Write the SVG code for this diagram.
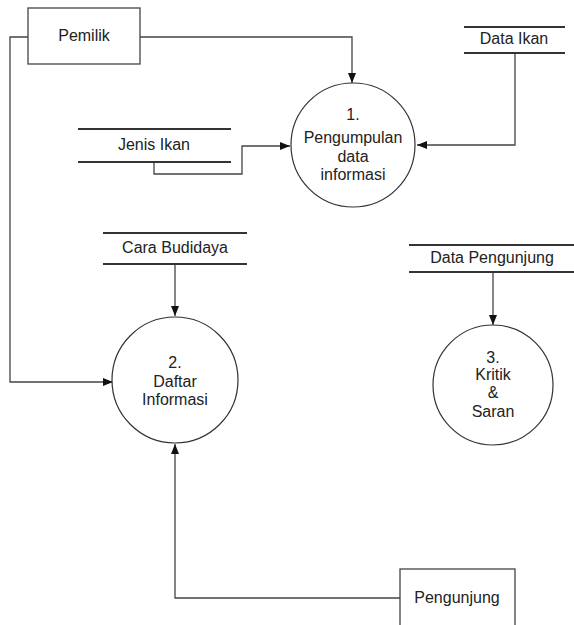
<svg xmlns="http://www.w3.org/2000/svg" width="574" height="625" viewBox="0 0 574 625">
<defs>
<marker id="arr" viewBox="0 0 10 8" refX="10" refY="4" markerWidth="10" markerHeight="8" markerUnits="userSpaceOnUse" orient="auto">
<path d="M0,0 L10,4 L0,8 Z" fill="#111"/>
</marker>
</defs>
<style>
text{font-family:"Liberation Sans",Arial,sans-serif;font-size:16px;fill:#222;text-anchor:middle}
.box{fill:#fff;stroke:#444;stroke-width:1.3}
.proc{fill:#fff;stroke:#333;stroke-width:1.2}
.store{stroke:#333;stroke-width:2}
.conn{fill:none;stroke:#444;stroke-width:1.3}
</style>
<rect width="574" height="625" fill="#fff"/>
<g id="connectors">
<path class="conn" d="M140,37 H352 V83" marker-end="url(#arr)"/>
<path class="conn" d="M28,37 H10 V382 H113" marker-end="url(#arr)"/>
<path class="conn" d="M515,53 V145 H417" marker-end="url(#arr)"/>
<path class="conn" d="M154,162 V174 H242 V146 H290" marker-end="url(#arr)"/>
<path class="conn" d="M175,264 V316" marker-end="url(#arr)"/>
<path class="conn" d="M493,272 V325" marker-end="url(#arr)"/>
<path class="conn" d="M400,598 H175 V444" marker-end="url(#arr)"/>
</g>
<g id="pemilik">
<rect class="box" x="28" y="8" width="112" height="56"/>
<text x="84" y="41">Pemilik</text>
</g>
<g id="pengunjung">
<rect class="box" x="400" y="569" width="115" height="70"/>
<text x="457" y="603">Pengunjung</text>
</g>
<g id="data-ikan">
<line class="store" x1="464" y1="27" x2="565" y2="27"/>
<line class="store" x1="464" y1="53" x2="565" y2="53"/>
<text x="514" y="44">Data Ikan</text>
</g>
<g id="jenis-ikan">
<line class="store" x1="78" y1="129" x2="231" y2="129"/>
<line class="store" x1="78" y1="162" x2="231" y2="162"/>
<text x="154" y="150">Jenis Ikan</text>
</g>
<g id="cara-budidaya">
<line class="store" x1="103" y1="233" x2="247" y2="233"/>
<line class="store" x1="103" y1="264" x2="247" y2="264"/>
<text x="175" y="253">Cara Budidaya</text>
</g>
<g id="data-pengunjung">
<line class="store" x1="409" y1="245" x2="574" y2="245"/>
<line class="store" x1="409" y1="272" x2="574" y2="272"/>
<text x="492" y="263">Data Pengunjung</text>
</g>
<g id="p1">
<circle class="proc" cx="353" cy="145" r="62"/>
<text x="353" y="120">1.</text>
<text x="353" y="143">Pengumpulan</text>
<text x="353" y="161.5">data</text>
<text x="353" y="180">informasi</text>
</g>
<g id="p2">
<circle class="proc" cx="175" cy="380" r="63"/>
<text x="175" y="368">2.</text>
<text x="175" y="386.5">Daftar</text>
<text x="175" y="405">Informasi</text>
</g>
<g id="p3">
<circle class="proc" cx="493" cy="385" r="60"/>
<text x="493" y="363">3.</text>
<text x="493" y="379.5">Kritik</text>
<text x="493" y="398">&amp;</text>
<text x="493" y="416.5">Saran</text>
</g>
</svg>
